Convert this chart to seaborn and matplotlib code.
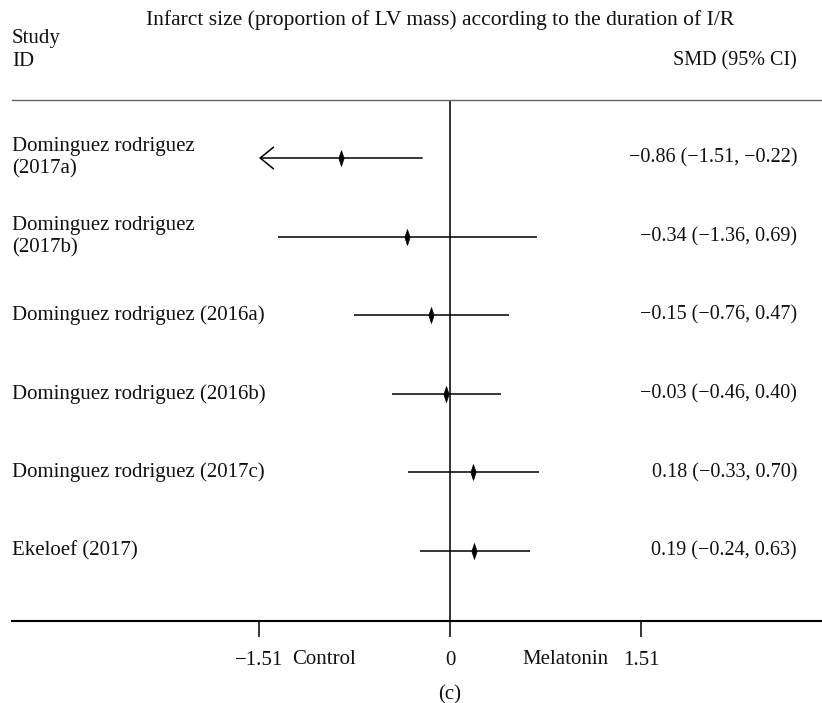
import matplotlib
matplotlib.use("Agg")
import matplotlib.pyplot as plt
import seaborn as sns
import pandas as pd
from matplotlib.path import Path

studies = ["Dominguez rodriguez\n(2017a)", "Dominguez rodriguez\n(2017b)",
           "Dominguez rodriguez (2016a)", "Dominguez rodriguez (2016b)",
           "Dominguez rodriguez (2017c)", "Ekeloef (2017)"]
smd = [-0.86, -0.34, -0.15, -0.03, 0.18, 0.19]
ci_low = [-1.51, -1.36, -0.76, -0.46, -0.33, -0.24]
ci_high = [-0.22, 0.69, 0.47, 0.40, 0.70, 0.63]
ci_text = ["\u22120.86 (\u22121.51, \u22120.22)", "\u22120.34 (\u22121.36, 0.69)",
           "\u22120.15 (\u22120.76, 0.47)", "\u22120.03 (\u22120.46, 0.40)",
           "0.18 (\u22120.33, 0.70)", "0.19 (\u22120.24, 0.63)"]
arrow_left = [True, False, False, False, False, False]
xticks = [-1.51, 0, 1.51]
xtick_labels = ["\u22121.51", "0", "1.51"]

sns.set_theme(style="white")
plt.rcParams['font.family'] = ['Liberation Serif', 'DejaVu Serif']

W, H = 822, 703
fig = plt.figure(figsize=(W / 100, H / 100), dpi=100)
ax = fig.add_axes([12 / W, (H - 621) / H, 810 / W, (621 - 100) / H])

df = pd.DataFrame({"study": studies, "smd": smd, "lo": ci_low, "hi": ci_high,
                   "row": range(len(studies))})

for r in df.itertuples():
    if arrow_left[r.row]:
        ax.annotate("", xy=(r.lo, r.row), xytext=(r.hi, r.row),
                    arrowprops=dict(arrowstyle="->,head_length=0.8,head_width=0.65",
                                    lw=1.1, color="black", shrinkA=0, shrinkB=0))
    else:
        ax.hlines(r.row, r.lo, r.hi, color="black", lw=1.1)

diamond = Path([(0, 1), (0.33, 0), (0, -1), (-0.33, 0), (0, 1)],
               [Path.MOVETO, Path.LINETO, Path.LINETO, Path.LINETO, Path.CLOSEPOLY])
sns.scatterplot(data=df, x="smd", y="row", marker=diamond, s=130, color="black",
                edgecolor="black", linewidth=0.5, ax=ax, zorder=5, legend=False)

ax.axvline(0, color="#333333", lw=1.4, zorder=1)

px_per_unit = 126.5
ax.set_xlim((12 - 450) / px_per_unit, (822 - 450) / px_per_unit)
ax.set_ylim((621 - 158) / 78.6, (100 - 158) / 78.6)

for s in ["left", "right"]:
    ax.spines[s].set_visible(False)
ax.spines["bottom"].set_color("black")
ax.spines["bottom"].set_linewidth(1.5)
ax.spines["top"].set_color("#666666")
ax.spines["top"].set_linewidth(1.0)

ax.set_yticks([])
ax.set_xticks(xticks)
ax.set_xticklabels(xtick_labels, fontsize=15, color="#111111")
ax.tick_params(axis="x", direction="out", length=11.5, width=1.1, color="black",
               pad=10, bottom=True)
ax.set_xlabel("")
ax.set_ylabel("")

fs = 15
for r in df.itertuples():
    ax.text(0, r.row, r.study, transform=ax.get_yaxis_transform(), ha="left",
            va="center", fontsize=fs, linespacing=1.25, color="#111111")
    ax.text((797 - 450) / px_per_unit, r.row, ci_text[r.row], ha="right",
            va="center", fontsize=14.5, color="#111111")

def ft(x, y, s, **kw):
    fig.text(x / W, 1 - y / H, s, **kw)

ft(440, 20, "Infarct size (proportion of LV mass) according to the duration of I/R",
   ha="center", va="center", fontsize=15.5, color="#111111")
ft(12, 38, "Study", ha="left", va="center", fontsize=fs, color="#111111")
ft(12, 61, "ID", ha="left", va="center", fontsize=fs, color="#111111")
ft(797, 61, "SMD (95% CI)", ha="right", va="center", fontsize=14.5, color="#111111")
ft(324, 659, "Control", ha="center", va="center", fontsize=15, color="#111111")
ft(565, 659, "Melatonin", ha="center", va="center", fontsize=15, color="#111111")
ft(450, 695, "(c)", ha="center", va="center", fontsize=15, color="#111111")

fig.savefig("out.png", dpi=100)
